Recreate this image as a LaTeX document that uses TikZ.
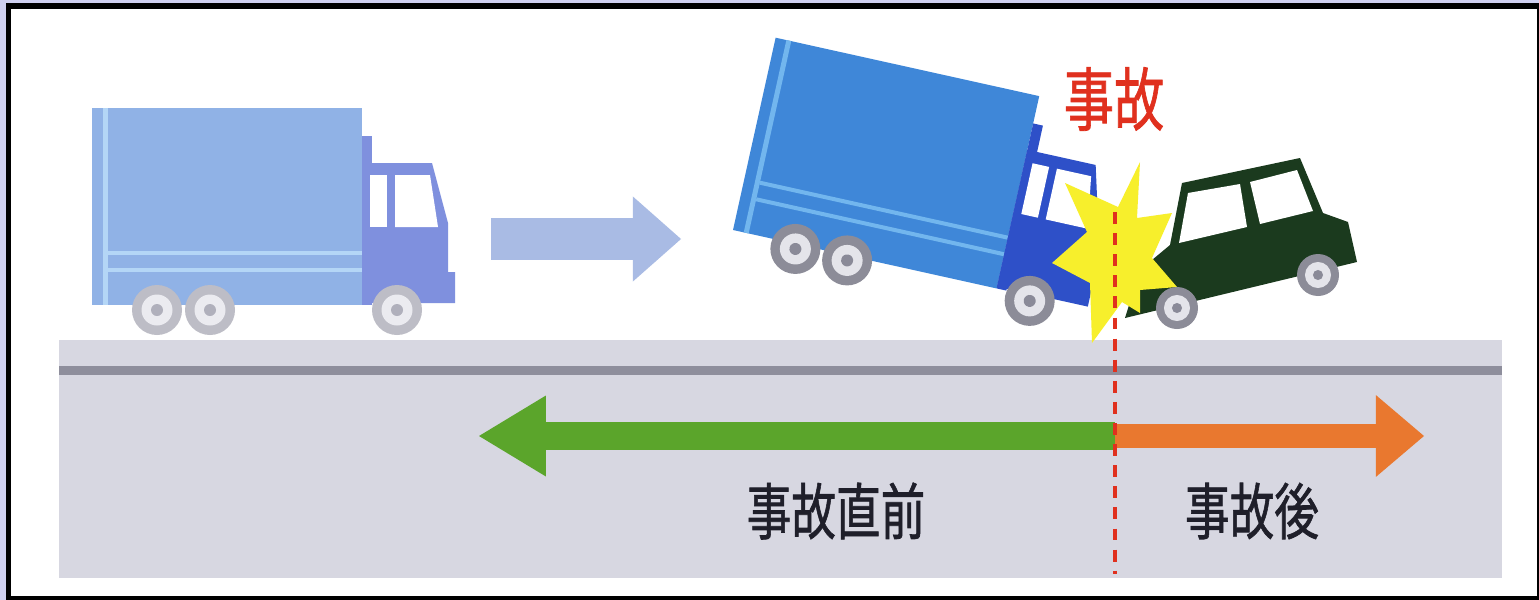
\documentclass[tikz,border=0pt]{standalone}
\usepackage{fontspec}
\newfontfamily\jpfont[FakeBold=1.2]{Noto Sans CJK JP}
\usetikzlibrary{arrows.meta}

\definecolor{pagelav}{HTML}{CFD0F0}
\definecolor{road}{HTML}{D7D7E1}
\definecolor{roadline}{HTML}{8E8E9C}
\definecolor{oldbox}{HTML}{90B2E6}
\definecolor{oldstripe}{HTML}{B4D6F6}
\definecolor{oldcab}{HTML}{7F90DE}
\definecolor{oldrim}{HTML}{BDBDC6}
\definecolor{oldinner}{HTML}{EBEBF0}
\definecolor{oldhub}{HTML}{B0B0BC}
\definecolor{newbox}{HTML}{3F87D8}
\definecolor{newstripe}{HTML}{72B6EE}
\definecolor{newcab}{HTML}{2E50C8}
\definecolor{newrim}{HTML}{8C8C98}
\definecolor{newinner}{HTML}{E4E4EA}
\definecolor{newhub}{HTML}{8A8A98}
\definecolor{carbody}{HTML}{1B3A1E}
\definecolor{flash}{HTML}{F7EF2C}
\definecolor{crashred}{HTML}{E0301E}
\definecolor{fadearrow}{HTML}{A9BBE4}
\definecolor{beforegreen}{HTML}{5BA52B}
\definecolor{afterorange}{HTML}{E9782F}
\definecolor{textdark}{HTML}{1F1F2A}

\newcommand{\narrow}[1]{\scalebox{0.73}[1]{#1}}

% wheel: centre, radius, colour prefix
\newcommand{\drawwheel}[3]{%
  \fill[#3rim] #1 circle (#2);
  \fill[#3inner] #1 circle (0.62*#2);
  \fill[#3hub] #1 circle (0.24*#2);}

% truck: origin, angle, colour prefix
\newcommand{\drawtruck}[3]{%
  \begin{scope}[shift={#1}, rotate=#2]
    \fill[#3box] (0,0) rectangle (270,-197);
    \fill[#3stripe] (11,0) rectangle (16,-197);
    \fill[#3stripe] (16,-50) rectangle (270,-54);
    \fill[#3stripe] (16,-33) rectangle (270,-37);
    \fill[#3cab] (270,0) rectangle (280,-169);
    \fill[#3cab] (270,-142) -- (340,-142) -- (356,-82) -- (356,-33)
      -- (363,-33) -- (363,-2) -- (270,-2) -- cycle;
    \fill[white] (278,-130) rectangle (295,-78);
    \fill[white] (303,-130) -- (338,-130) -- (346,-78) -- (303,-78) -- cycle;
    \foreach \wx in {65,118,305} {\drawwheel{(\wx,5)}{25}{#3}}
  \end{scope}}

\tikzset{
  jptext/.style={font=\jpfont\fontsize{17.4}{18}\selectfont, text=textdark, inner sep=0pt},
  timeline/.style={line width=#1, line cap=butt},
}

\begin{document}
\begin{tikzpicture}[x=0.01cm, y=-0.01cm]

  \useasboundingbox (0,0) rectangle (1539,600);

  % Frame
  \fill[pagelav] (0,0) rectangle (1539,600);
  \fill[black] (6,3) rectangle (1539,600);
  \fill[white] (11,9) rectangle (1537,596);

  % Road
  \fill[road] (59,340) rectangle (1502,578);
  \fill[roadline] (59,366) rectangle (1502,375);

  % Trucks
  \drawtruck{(92,305)}{0}{old}
  \drawtruck{(733,230)}{-12.5}{new}

  % Car
  \fill[carbody] (1182,183) -- (1300,158) -- (1323,213) -- (1348,222) -- (1357,262)
    -- (1125,318) -- (1140,270) -- (1170,245) -- cycle;
  \fill[white] (1188,193) -- (1240,184) -- (1247,227) -- (1179,243) -- cycle;
  \fill[white] (1250,182) -- (1297,170) -- (1313,211) -- (1260,224) -- cycle;

  % Crash flash
  \fill[flash] (1140,162) -- (1137,218) -- (1172,213) -- (1152,258) -- (1177,287)
    -- (1140,290) -- (1140,313) -- (1122,302) -- (1092,343) -- (1090,283)
    -- (1052,263) -- (1087,232) -- (1065,183) -- (1118,207) -- cycle;
  \drawwheel{(1177,308)}{21}{new}
  \drawwheel{(1318,275)}{21}{new}

  % Define nodes
  \coordinate (fadestart) at (491,239);
  \coordinate (fadeend) at (681,239);
  \coordinate (split) at (1115,436);
  \coordinate (pastend) at (479,436);
  \coordinate (futureend) at (1424,436);
  \coordinate (crashtop) at (1115,212);
  \coordinate (crashbottom) at (1115,574);
  \node[jptext, text=crashred, font=\jpfont\fontsize{19.6}{20}\selectfont] (crash) at (1114,99) {\narrow{事故}};
  \node[jptext] (before) at (836,511) {\narrow{事故直前}};
  \node[jptext] (after) at (1252,511) {\narrow{事故後}};

  % Connect the nodes
  \draw[timeline=12pt, fadearrow, -{Triangle[length=13.7pt, width=24.2pt, line width=0pt]}] (fadestart) -- (fadeend);
  \draw[timeline=8pt, beforegreen, -{Triangle[length=19pt, width=23pt, line width=0pt]}] (split) -- (pastend);
  \draw[timeline=6.8pt, afterorange, -{Triangle[length=13.7pt, width=23.3pt, line width=0pt]}] (split) -- (futureend);
  \draw[crashred, line width=1.35pt, dash pattern=on 3.4pt off 2.6pt] (crashtop) -- (crashbottom);

\end{tikzpicture}
\end{document}
